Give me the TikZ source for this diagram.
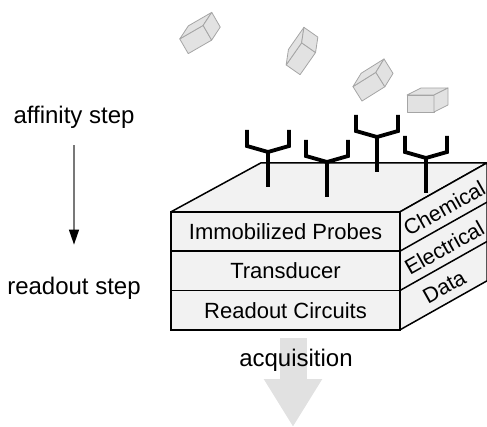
\documentclass[tikz,border=0pt]{standalone}
\usepackage{fontspec}
\setmainfont{Liberation Sans}
\usepackage{tikz}
\usetikzlibrary{arrows.meta,positioning}
\definecolor{layerfill}{RGB}{242,242,242}
\definecolor{cubefill}{RGB}{226,226,226}
\definecolor{cubeedge}{RGB}{165,165,165}
\definecolor{flowgray}{RGB}{225,225,225}
\definecolor{linegray}{RGB}{120,120,120}
\tikzstyle{layer} = [rectangle, minimum width=229pt, minimum height=39.33pt, outer sep=0pt, text centered, draw=black, fill=layerfill, line width=1.5pt, font=\fontsize{22}{26}\selectfont]
\tikzstyle{face} = [draw=black, fill=layerfill, line width=1.5pt, line join=round]
\tikzstyle{sidelabel} = [font=\fontsize{21.5}{26}\selectfont, inner sep=0pt, yshift=-1.5pt]
\tikzstyle{steplabel} = [font=\fontsize{24}{28}\selectfont, inner sep=0pt]
\tikzstyle{steparrow} = [linegray, line width=1.2pt, -{Triangle[width=10pt,length=15pt,color=black]}]
\tikzstyle{cube} = [draw=cubeedge, fill=cubefill, line width=0.8pt, line join=round]
\tikzset{
  probe/.pic={\draw[line width=3.8pt] (-21,-57) -- (-21,-41) -- (0,-35) -- (21,-41) -- (21,-57) (0,-35) -- (0,0);},
  analyte/.pic={
    \filldraw[cube] (-20.5,-5) rectangle (6.5,12);
    \filldraw[cube] (-20.5,-5) -- ++(14,-7) -- ++(27,0) -- (6.5,-5) -- cycle;
    \filldraw[cube] (6.5,-5) -- ++(14,-7) -- ++(0,17) -- (6.5,12) -- cycle;}
}

\begin{document}
\begin{tikzpicture}[x=1pt,y=-1pt]
\useasboundingbox (0,0) rectangle (487,427);
% Sensor stack
\node (probes) [layer] at (285.5,231.5) {Immobilized Probes};
\node (transducer) [layer, below=0pt of probes] {Transducer};
\node (readout) [layer, below=0pt of transducer] {Readout Circuits};
\draw[face] (probes.north west) -- ++(90,-49) -- ++(226,0) -- (probes.north east) -- cycle;
\draw[face] (probes.north east) -- ++(87,-49) -- ++(0,118) -- (readout.south east) -- cycle;
\draw[line width=1.5pt] (probes.south east) -- ++(87,-49) (transducer.south east) -- ++(87,-49);
\path (probes.east) -- ++(87,-49) node[midway, sloped, sidelabel] {Chemical};
\path (transducer.east) -- ++(87,-49) node[midway, sloped, sidelabel] {Electrical};
\path (readout.east) -- ++(87,-49) node[midway, sloped, sidelabel] {Data};
% Probes on top
\pic at (268,187) {probe};
\pic at (327,197) {probe};
\pic at (377,172) {probe};
\pic at (426,193) {probe};
% Target molecules
\pic[rotate=30] at (200,33) {analyte};
\pic[rotate=55] at (302,51) {analyte};
\pic[rotate=32] at (373,80) {analyte};
\pic at (427.5,100) {analyte};
% Steps
\node (affinity) [steplabel] at (74,117) {affinity step};
\node (readstep) [steplabel] at (74,288) {readout step};
\draw[steparrow, shorten <=17pt, shorten >=32pt] (affinity) -- (readstep);
% Acquisition
\coordinate (flowtop) at (293,338);
\coordinate (flowtip) at (293,427);
\draw[flowgray, line width=27pt, -{Triangle[width=55pt,length=48pt]}] (flowtop) -- (flowtip);
\node (acquisition) [steplabel] at (296,360) {acquisition};
\end{tikzpicture}
\end{document}
